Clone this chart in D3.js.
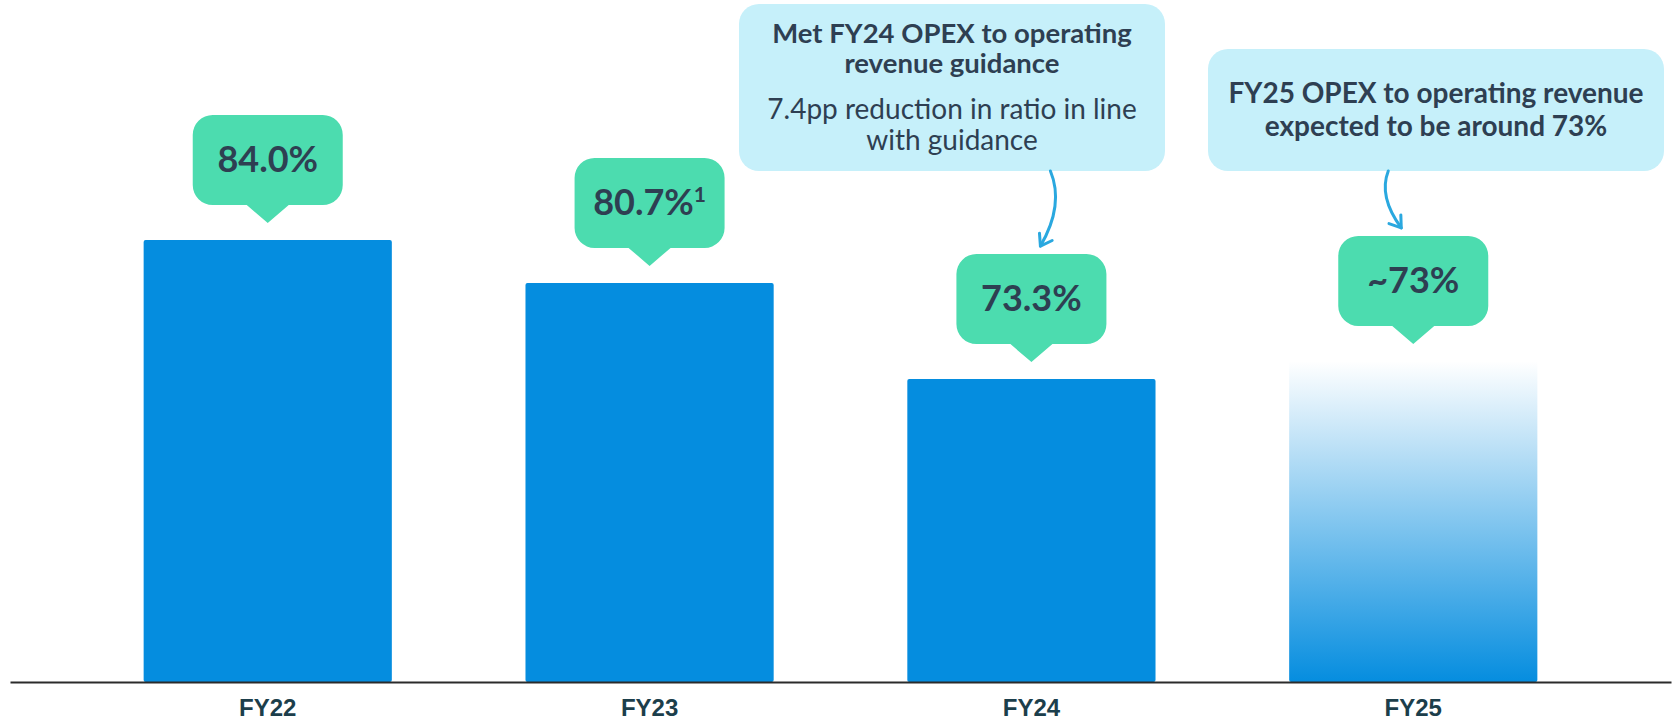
<!DOCTYPE html>
<html>
<head>
<meta charset="utf-8">
<script src="https://cdn.jsdelivr.net/npm/d3@7"></script>
<style>
  body { margin: 0; background: #fff; }
  svg { display: block; }
  .val { font-family: Lato, "Open Sans", sans-serif; font-weight: 700; fill: #2e3f52; }
  .note { font-family: Lato, "Open Sans", sans-serif; fill: #2e3f52; }
  .x-axis text { font-family: "Liberation Sans", Arial, sans-serif; font-weight: 700; font-size: 24px; fill: #1c3e4b; }
</style>
</head>
<body>
<div id="chart"></div>
<script>
// data
const years = ["FY22", "FY23", "FY24", "FY25"];
const ratios = [84.0, 80.7, 73.3, 74.7]; // FY25 drawn as faded estimate
const valueLabels = ["84.0%", "80.7%", "73.3%", "~73%"];
const footnotes = ["", "1", "", ""];
const isForecast = [false, false, false, true];

const calloutYears = ["FY24", "FY25"];
const calloutBold = [
  ["Met FY24 OPEX to operating", "revenue guidance"],
  ["FY25 OPEX to operating revenue", "expected to be around 73%"]
];
const calloutNormal = [
  ["7.4pp reduction in ratio in line", "with guidance"],
  []
];

const W = 1673, H = 720;
const baseY = 682;

const svg = d3.select("#chart").append("svg")
  .attr("width", W).attr("height", H);

const x = d3.scaleBand().domain(years).range([10, 1671]).padding(0.35);
const y = d3.scaleLinear().domain([50, 84]).range([baseY, 240]);

const defs = svg.append("defs");
const grad = defs.append("linearGradient")
  .attr("id", "fade").attr("x1", 0).attr("y1", 1).attr("x2", 0).attr("y2", 0);
grad.append("stop").attr("offset", "0%").attr("stop-color", "#058ddf").attr("stop-opacity", 1);
grad.append("stop").attr("offset", "100%").attr("stop-color", "#058ddf").attr("stop-opacity", 0);

const data = years.map((d, i) => ({
  year: d, value: ratios[i], label: valueLabels[i], note: footnotes[i], forecast: isForecast[i]
}));

// bars
svg.selectAll(".bar")
  .data(data)
  .enter()
  .append("rect")
  .attr("class", "bar")
  .attr("x", d => x(d.year))
  .attr("y", d => y(d.value))
  .attr("width", x.bandwidth())
  .attr("height", d => baseY - y(d.value))
  .attr("rx", 2)
  .attr("fill", d => d.forecast ? "url(#fade)" : "#058ddf");

// x axis
const xAxis = svg.append("g")
  .attr("class", "x-axis")
  .attr("transform", `translate(0,${baseY})`)
  .call(d3.axisBottom(x).tickSize(0).tickPadding(17));
xAxis.select(".domain").attr("stroke", "#2b2b2b").attr("stroke-width", 2);

// value bubbles
const bw = 150, bh = 90, br = 20, pw = 21, ph = 18, gap = 17;
function bubblePath(cx, tipY) {
  const bottom = tipY - ph, top = bottom - bh;
  const l = cx - bw / 2, r = cx + bw / 2;
  const p = d3.path();
  p.moveTo(l + br, top);
  p.lineTo(r - br, top);
  p.arcTo(r, top, r, top + br, br);
  p.lineTo(r, bottom - br);
  p.arcTo(r, bottom, r - br, bottom, br);
  p.lineTo(cx + pw, bottom);
  p.lineTo(cx, tipY);
  p.lineTo(cx - pw, bottom);
  p.lineTo(l + br, bottom);
  p.arcTo(l, bottom, l, bottom - br, br);
  p.lineTo(l, top + br);
  p.arcTo(l, top, l + br, top, br);
  p.closePath();
  return p.toString();
}

const bubbles = svg.selectAll(".bubble")
  .data(data)
  .enter()
  .append("g")
  .attr("class", "bubble");

bubbles.append("path")
  .attr("d", d => bubblePath(x(d.year) + x.bandwidth() / 2, y(d.value) - gap))
  .attr("fill", "#4cdcaf");

const valText = bubbles.append("text")
  .attr("class", "val")
  .attr("x", d => x(d.year) + x.bandwidth() / 2)
  .attr("y", d => y(d.value) - gap - ph - bh + 57)
  .attr("text-anchor", "middle")
  .style("font-size", "36px");
valText.append("tspan").text(d => d.label);
valText.append("tspan")
  .attr("dy", -13)
  .style("font-size", "21px")
  .text(d => d.note);

// callouts
const boxes = [
  { left: 739, top: 4, width: 426, height: 167, lines: [43, 73, 119, 150], arrowStart: 19, arrowEnd: 9, bend: 14 },
  { left: 1208, top: 49, width: 456, height: 122, lines: [103, 136], arrowStart: -25, arrowEnd: -12, bend: -10 }
];

calloutYears.forEach(function (yr, i) {
  const b = boxes[i];
  const d = data.find(e => e.year === yr);
  const cx = x(yr) + x.bandwidth() / 2;
  const g = svg.append("g");
  g.append("rect")
    .attr("x", b.left).attr("y", b.top)
    .attr("width", b.width).attr("height", b.height)
    .attr("rx", 20)
    .attr("fill", "#c6f0fa");
  const lines = calloutBold[i].map(t => ({ t, bold: true }))
    .concat(calloutNormal[i].map(t => ({ t, bold: false })));
  g.selectAll("text")
    .data(lines)
    .enter()
    .append("text")
    .attr("class", "note")
    .attr("x", b.left + b.width / 2)
    .attr("y", (l, j) => b.lines[j])
    .attr("text-anchor", "middle")
    .style("font-size", l => l.bold ? (i === 1 ? "28px" : "27.5px") : "28px")
    .style("font-weight", l => l.bold ? 700 : 400)
    .text(l => l.t);

  // curved arrow from box to bubble
  const tipY = y(d.value) - gap - ph - bh - 8;
  const sx = cx + b.arrowStart, sy = b.top + b.height;
  const ex = cx + b.arrowEnd;
  const c1x = sx + b.bend, c1y = sy + (tipY - sy) * 0.45;
  const arrow = d3.path();
  arrow.moveTo(sx, sy);
  arrow.quadraticCurveTo(c1x, c1y, ex, tipY);
  g.append("path")
    .attr("d", arrow.toString())
    .attr("fill", "none")
    .attr("stroke", "#2aa8df")
    .attr("stroke-width", 3)
    .attr("stroke-linecap", "round");
  // head
  const ang = Math.atan2(tipY - c1y, ex - c1x);
  const len = 13, spread = 0.6;
  const head = d3.path();
  head.moveTo(ex - len * Math.cos(ang - spread), tipY - len * Math.sin(ang - spread));
  head.lineTo(ex, tipY);
  head.lineTo(ex - len * Math.cos(ang + spread), tipY - len * Math.sin(ang + spread));
  g.append("path")
    .attr("d", head.toString())
    .attr("fill", "none")
    .attr("stroke", "#2aa8df")
    .attr("stroke-width", 3)
    .attr("stroke-linecap", "round")
    .attr("stroke-linejoin", "round");
});
</script>
</body>
</html>
